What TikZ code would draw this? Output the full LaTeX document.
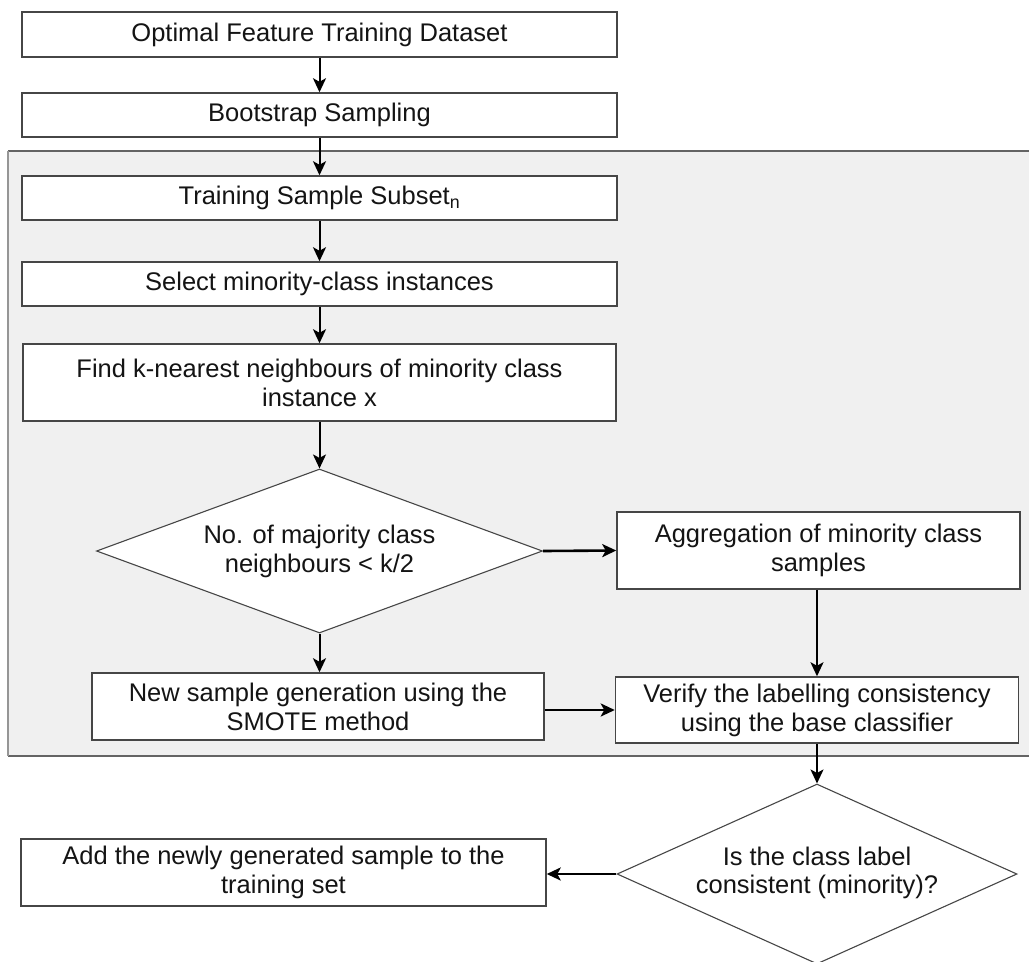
\documentclass[tikz,border=0pt]{standalone}
\usepackage{fontspec}
\setmainfont{Liberation Sans}
\usetikzlibrary{arrows.meta,shapes.geometric}
\definecolor{panelfill}{RGB}{240,240,240}
\definecolor{paneledge}{RGB}{100,100,100}
\definecolor{panelside}{RGB}{150,150,150}
\definecolor{boxedge}{RGB}{70,70,70}
\definecolor{inktext}{RGB}{20,20,20}
\tikzset{
  stepbox/.style={draw=boxedge, line width=1.5pt, fill=white, rectangle, inner sep=0pt,
    align=center, text=inktext, font=\fontsize{25.5}{29}\selectfont},
  decision/.style={draw=boxedge, line width=1.1pt, fill=white, diamond, inner sep=0pt,
    align=center, text=inktext, font=\fontsize{25.5}{29}\selectfont},
  flow/.style={line width=2pt, -{Stealth[length=14pt,width=13pt,inset=3.5pt]}},
  flowthick/.style={flow, line width=2.6pt}
}
\begin{document}
\begin{tikzpicture}[x=1pt,y=-1pt]
\useasboundingbox (0,0) rectangle (1029,962);
\clip (0,0) rectangle (1029,962);

% shaded panel holding the per-subset oversampling steps
\fill[panelfill] (8,151) rectangle (1040,756);
\draw[paneledge, line width=2pt] (8,151) -- (1040,151);
\draw[paneledge, line width=2pt] (8,756) -- (1040,756);
\draw[panelside, line width=1.2pt] (8,151) -- (8,756);

% process steps
\node[stepbox, minimum width=595pt, minimum height=45pt] (b1) at (319.5,34.5) {Optimal Feature Training Dataset};
\node[stepbox, minimum width=595pt, minimum height=44pt] (b2) at (319.5,115) {Bootstrap Sampling};
\node[stepbox, minimum width=595pt, minimum height=44pt] (b3) at (319.5,198) {Training Sample Subset\textsubscript{n}};
\node[stepbox, minimum width=595pt, minimum height=44pt] (b4) at (319.5,284) {Select minority-class instances};
\node[stepbox, minimum width=593pt, minimum height=77pt] (b5) at (319.5,382.5) {Find k-nearest neighbours of minority class\\instance x};
\node[decision, aspect=2.72, minimum width=446pt, minimum height=164pt] (d1) at (319.5,551) {No. of majority class\\neighbours < k/2};
\node[stepbox, minimum width=403pt, minimum height=77pt] (agg) at (818.5,550.5) {Aggregation of minority class\\samples};
\node[stepbox, minimum width=452pt, minimum height=67pt] (smote) at (318,706.5) {New sample generation using the\\SMOTE method};
\node[stepbox, minimum width=403pt, minimum height=66pt] (ver) at (817,710) {Verify the labelling consistency\\using the base classifier};
\node[decision, aspect=2.22, minimum width=400pt, minimum height=180pt] (d2) at (817,874) {\raisebox{4pt}{\begin{tabular}{@{}c@{}}Is the class label\\[-1pt]consistent (minority)?\end{tabular}}};
\node[stepbox, minimum width=525pt, minimum height=67pt] (add) at (283.5,872.5) {Add the newly generated sample to the\\training set};

% connectors
\draw[flow] (b1.south) -- (b2.north);
\draw[flow] (b2.south) -- (b3.north);
\draw[flow] (b3.south) -- (b4.north);
\draw[flow] (b4.south) -- (b5.north);
\draw[flow] (b5.south) -- (d1.north);
\draw[flowthick] (d1.east) -- (agg.west);
\draw[flow] (d1.south) -- (d1.south |- smote.north);
\draw[flow] (ver.north |- agg.south) -- (ver.north);
\draw[flowthick] (smote.east |- ver.west) -- (ver.west);
\draw[flow] (ver.south) -- (d2.north);
\draw[flowthick] (d2.west) -- (d2.west -| add.east);
\end{tikzpicture}
\end{document}
